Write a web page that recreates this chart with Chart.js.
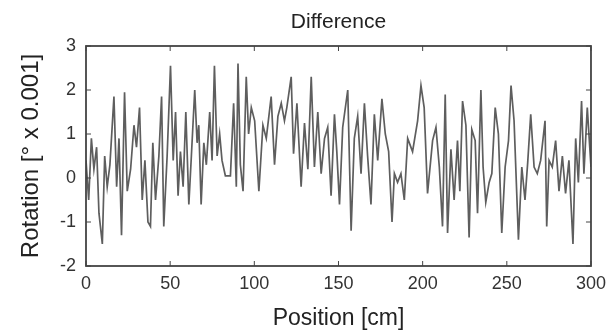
<!DOCTYPE html>
<html>
<head>
<meta charset="utf-8">
<script src="https://cdn.jsdelivr.net/npm/chart.js@4/dist/chart.umd.min.js"></script>
<style>
  html, body { margin: 0; padding: 0; background: #fff; }
  #wrap { width: 613px; height: 334px; }
</style>
</head>
<body>
<div id="wrap"><canvas id="diff-chart"></canvas></div>
<script>
// position along the sample [cm] and measured rotation difference [deg x 0.001]
const positions = [
    0, 1.6, 3.2, 4.7, 6.3, 7.7, 9.7, 11.1, 12.6, 14.2, 16.6, 18.2, 19.6, 21.1, 22.9, 24.5,
    26.5, 28.5, 30.0, 31.8, 33.4, 35.0, 36.8, 38.3, 39.7, 41.3, 43.3, 44.9, 46.2, 48.2, 50.2,
    51.8, 53.2, 54.7, 56.1, 57.7, 59.3, 61.1, 62.6, 64.6, 66.0, 67.0, 68.4, 70.0, 71.5, 73.5,
    74.9, 76.3, 77.9, 79.4, 80.8, 82.8, 85.8, 87.7, 89.3, 90.3, 91.7, 93.3, 95.2, 96.6, 98.2,
    100.2, 102.7, 105.1, 107.1, 110.0, 112.0, 114.0, 116.0, 117.9, 119.3, 121.9, 123.3, 125.3,
    127.8, 129.8, 131.8, 133.8, 135.7, 137.7, 139.7, 141.7, 143.6, 145.6, 147.6, 149.0, 150.6,
    152.5, 155.5, 157.5, 159.4, 161.4, 163.4, 165.4, 167.3, 169.3, 171.3, 173.3, 175.8, 177.8,
    179.8, 181.8, 183.2, 185.1, 187.1, 189.1, 191.1, 194.0, 197.0, 199.0, 200.9,
    202.9, 205.9, 207.9, 209.9, 211.8, 213.4, 214.8, 216.8, 218.7, 220.7, 222.1, 223.7, 225.7,
    227.6, 229.2, 231.2, 232.6, 234.6, 235.9, 237.5, 239.5, 241.1, 243.1, 245.0, 247.0, 249.0,
    251.0, 252.5, 254.3, 256.9, 258.9, 260.8, 262.4, 264.2, 266.2, 268.1, 270.1, 272.7, 273.7,
    275.1, 277.0, 279.0, 281.0, 283.0, 284.9, 286.9, 289.3, 290.9, 292.5, 294.4, 295.8, 297.8, 300
];
const rotation = [
    0.4, -0.5, 0.9, 0.2, 0.7, -0.8, -1.5, 0.5, -0.2, 0.3, 1.85, -0.2, 0.9, -1.3, 1.95, -0.3,
    0.2, 1.2, 0.7, 1.6, -0.5, 0.4, -1.0, -1.1, 0.8, -0.5, 0.5, 1.85, -1.1, 0.5, 2.55,
    0.4, 1.5, -0.4, 0.6, -0.2, 1.5, -0.6, 0.5, 2.0, 0.8, 1.2, -0.6, 0.8, 0.3, 1.5,
    0.4, 2.55, 0.5, 1.0, 0.4, 0.05, 0.05, 1.7, -0.2, 2.6, 0.3, -0.3, 2.3, 1.0, 1.6,
    1.3, -0.3, 1.2, 0.9, 1.85, 0.3, 1.4, 1.7, 1.3, 1.6, 2.3, 0.55, 1.7,
    -0.2, 1.25, 0.2, 2.3, 0.25, 1.5, 0.1, 0.9, 1.15, -0.4, 1.45, 0.6, -0.6,
    1.15, 2.0, -1.2, 0.9, 1.4, 0.1, 1.7, 0.5, -0.6, 1.45, 0.4, 1.8, 1.0,
    0.6, -1.0, 0.1, -0.1, 0.1, -0.5, 0.9, 0.6, 1.3, 2.1, 1.6,
    -0.35, 0.85, 1.15, 0.25, -1.1, 1.9, -1.25, 0.65, -0.5, 0.85, -0.3, 1.75, 1.2,
    -1.35, 1.1, 0.85, -0.8, 2.0, 0.25, -0.55, -0.1, 0.1, 1.6, 1.0, -1.25, 0.25,
    0.85, 2.1, 1.3, -1.4, 0.25, -0.5, 0.35, 1.45, 0.25, 0.1, 0.4, 1.3, -1.1,
    0.4, 0.25, 0.85, -0.3, 0.5, -0.35, 0.4, -1.5, 0.9, -0.1, 1.75, 0.1, 1.6, 0.25
];
const xTicks = [0, 50, 100, 150, 200, 250, 300];
const yTicks = [-2, -1, 0, 1, 2, 3];
const chartTitle = 'Difference';

const axisColor = '#444';
const fontFamily = '"Liberation Sans", Arial, sans-serif';

// matlab style frame: box on all four sides, ticks pointing inward,
// title centred over the plot box rather than the whole canvas
const boxPlugin = {
    id: 'box',
    afterDraw(chart) {
        const { ctx, chartArea: a, scales } = chart;
        const len = 5;
        ctx.save();
        ctx.strokeStyle = axisColor;
        ctx.lineWidth = 1.8;
        ctx.strokeRect(a.left, a.top, a.right - a.left, a.bottom - a.top);
        ctx.lineWidth = 1;
        ctx.beginPath();
        xTicks.forEach(t => {
            const px = scales.x.getPixelForValue(t);
            ctx.moveTo(px, a.bottom); ctx.lineTo(px, a.bottom - len);
            ctx.moveTo(px, a.top); ctx.lineTo(px, a.top + len);
        });
        yTicks.forEach(t => {
            const py = scales.y.getPixelForValue(t);
            ctx.moveTo(a.left, py); ctx.lineTo(a.left + len, py);
            ctx.moveTo(a.right, py); ctx.lineTo(a.right - len, py);
        });
        ctx.stroke();

        ctx.fillStyle = '#222';
        ctx.font = '21px ' + fontFamily;
        ctx.textAlign = 'center';
        ctx.textBaseline = 'middle';
        ctx.fillText(chartTitle, (a.left + a.right) / 2, 22);
        ctx.restore();
    }
};

const ctx = document.getElementById('diff-chart').getContext('2d');
new Chart(ctx, {
    type: 'line',
    data: {
        datasets: [{
            label: chartTitle,
            data: positions.map((p, i) => ({ x: p, y: rotation[i] })),
            borderColor: '#5e5e5e',
            borderWidth: 1.7,
            pointRadius: 0,
            tension: 0,
            fill: false
        }]
    },
    options: {
        responsive: true,
        maintainAspectRatio: false,
        animation: false,
        layout: { padding: { top: 46, right: 21, bottom: 0, left: 0 } },
        plugins: {
            legend: { display: false },
            tooltip: { enabled: false },
            title: { display: false }
        },
        scales: {
            x: {
                type: 'linear',
                min: 0,
                max: 300,
                afterBuildTicks: s => { s.ticks = xTicks.map(v => ({ value: v })); },
                afterFit: s => { s.height = 68; },
                grid: { display: false, drawTicks: false },
                border: { display: false },
                ticks: { color: '#333', padding: 7, maxRotation: 0, font: { family: fontFamily, size: 18 } },
                title: {
                    display: true,
                    text: 'Position [cm]',
                    color: '#222',
                    font: { family: fontFamily, size: 23, lineHeight: 1.2 },
                    padding: { top: 0, bottom: 2 }
                }
            },
            y: {
                min: -2,
                max: 3,
                afterBuildTicks: s => { s.ticks = yTicks.map(v => ({ value: v })); },
                afterFit: s => { s.width = 86; },
                grid: { display: false, drawTicks: false },
                border: { display: false },
                ticks: { color: '#333', padding: 10, font: { family: fontFamily, size: 18 } },
                title: {
                    display: true,
                    text: 'Rotation [° x 0.001]',
                    color: '#222',
                    font: { family: fontFamily, size: 24, lineHeight: 1.2 },
                    padding: { top: 17, bottom: 0 }
                }
            }
        }
    },
    plugins: [boxPlugin]
});
</script>
</body>
</html>
